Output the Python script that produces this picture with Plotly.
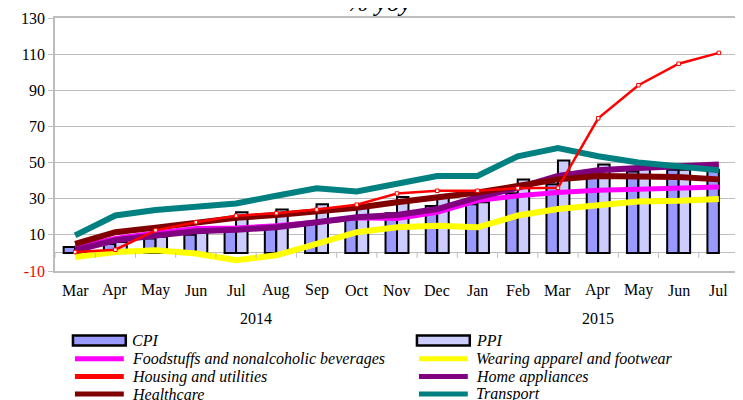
import plotly.graph_objects as go

months = ["Mar", "Apr", "May", "Jun", "Jul", "Aug", "Sep", "Oct", "Nov", "Dec",
          "Jan", "Feb", "Mar", "Apr", "May", "Jun", "Jul"]
years = ["2014", "2015"]
year_span = [(0, 9), (10, 16)]

cpi = [3.3, 5, 8, 10, 13, 15, 17, 19, 22, 26, 27, 33, 38, 42, 45, 46, 46]
ppi = [2, 6, 9, 11, 22.5, 24, 27, 25, 31, 31, 28, 40.7, 51.2, 49, 47, 46, None]
food = [3, 8, 11, 13.5, 13.8, 15, 17, 19.5, 19, 22.5, 29, 31.6, 33.4, 34.7, 35.3, 36, 36.5]
wearing = [-2.2, 0.5, 1.5, -0.3, -4, -1.3, 5, 11.5, 14.2, 15, 14.2, 20.7, 24.3, 26.7, 28.5, 28.9, 29.8]
housing = [0.5, 1.8, 12.5, 17, 20.6, 22, 24, 26.7, 32.9, 34.4, 34.4, 35.8, 36, 74.5, 92.8, 104.7, 110.7]
home = [1.5, 7, 9.7, 12, 12.8, 14.2, 17, 19.7, 21, 24.3, 30.7, 36, 42.6, 45.7, 47, 48, 49]
health = [5, 11.5, 14, 17, 19.4, 21, 23, 25, 28, 30.7, 33.4, 37, 40.7, 42.6, 42.6, 42, 40.7]
transport = [9.7, 20.7, 23.8, 26, 27.4, 31.6, 35.8, 34, 38, 42.6, 42.6, 53.5, 58, 53.5, 50, 47.5, 45.7]

yticks = [-10, 10, 30, 50, 70, 90, 110, 130]

x = list(range(len(months)))

OFF = 8  # page body margin
W, H = 743 - OFF, 400 - OFF
L, R, T, B = 55 - OFF, 2, 17 - OFF, 129
PW, PH = W - L - R, H - T - B
FONT = "Liberation Serif"
GRID = "#BDBDBD"


def px(xp):
    return (xp - OFF - L) / PW


def py(yp):
    return (H - B - (yp - OFF)) / PH


fig = go.Figure()
fig.add_trace(go.Bar(x=x, y=cpi, name="CPI", marker=dict(color="#9999FF", line=dict(color="black", width=2))))
fig.add_trace(go.Bar(x=x, y=ppi, name="PPI", marker=dict(color="#CCCCFF", line=dict(color="black", width=2))))

lines = [
    ("Foodstuffs and nonalcoholic beverages", food, "#FF00FF", 5),
    ("Wearing apparel and footwear", wearing, "#FFFF00", 6),
    ("Home appliances", home, "#800080", 6),
    ("Healthcare", health, "#800000", 6),
    ("Transport", transport, "#008080", 6),
]
for name, vals, col, w in lines:
    fig.add_trace(go.Scatter(x=x, y=vals, name=name, mode="lines",
                             line=dict(color=col, width=w)))
fig.add_trace(go.Scatter(x=x, y=housing, name="Housing and utilities", mode="lines+markers",
                         line=dict(color="#FF0000", width=2.5),
                         marker=dict(symbol="square", size=3.5, color="white",
                                     line=dict(color="#FF0000", width=1))))

shapes = []
# category axis ticks below the zero line
for i in range(len(months) + 1):
    shapes.append(dict(type="line", xref="x", yref="y", x0=i - 0.5, x1=i - 0.5,
                       ysizemode="pixel", yanchor=0, y0=0, y1=-5,
                       line=dict(color=GRID, width=1)))
# month separators in the category table
for i in range(1, len(months)):
    depth = -59 if i == 10 else -29
    shapes.append(dict(type="line", xref="x", yref="y", x0=i - 0.5, x1=i - 0.5,
                       ysizemode="pixel", yanchor=-10, y0=0, y1=depth,
                       line=dict(color=GRID, width=1.5)))
shapes.append(dict(type="line", xref="x", yref="y", x0=-0.5, x1=-0.5,
                   ysizemode="pixel", yanchor=-10, y0=0, y1=-59,
                   line=dict(color=GRID, width=1.5)))

annotations = []
for i, m in enumerate(months):
    annotations.append(dict(x=i, y=-10, xref="x", yref="y", text=m, showarrow=False,
                            yanchor="middle", yshift=-19,
                            font=dict(family=FONT, size=16, color="black")))
for yr, (a, b) in zip(years, year_span):
    annotations.append(dict(x=(a + b) / 2, y=-10, xref="x", yref="y", text=yr, showarrow=False,
                            yanchor="middle", yshift=-47,
                            font=dict(family=FONT, size=16, color="black")))
annotations.append(dict(x=px(380), y=1, xref="paper", yref="paper", text="<i>% yoy</i>",
                        showarrow=False, yanchor="bottom", yshift=-1,
                        font=dict(family=FONT, size=26, color="black")))

# legend (two columns)
legend_items = [
    ("CPI", "box", "#9999FF"),
    ("PPI", "box", "#CCCCFF"),
    ("Foodstuffs and nonalcoholic beverages", "line", "#FF00FF"),
    ("Wearing apparel and footwear", "line", "#FFFF00"),
    ("Housing and utilities", "line", "#FF0000"),
    ("Home appliances", "line", "#800080"),
    ("Healthcare", "line", "#800000"),
    ("Transport", "line", "#008080"),
]
rows_y = [340.7, 359, 377, 394.5]
cols_x = [(73, 126, 130), (418, 471, 475)]
for k, (label, kind, col) in enumerate(legend_items):
    r, c = divmod(k, 2)
    x0, x1, tx = cols_x[c]
    yc = rows_y[r]
    if kind == "box":
        shapes.append(dict(type="rect", xref="paper", yref="paper",
                           x0=px(x0), x1=px(x1), y0=py(yc + 5), y1=py(yc - 5),
                           fillcolor=col, line=dict(color="black", width=2.5)))
    else:
        shapes.append(dict(type="line", xref="paper", yref="paper",
                           x0=px(x0 + 2), x1=px(x1 - 2), y0=py(yc), y1=py(yc),
                           line=dict(color=col, width=5)))
    annotations.append(dict(x=px(tx), y=py(yc), xref="paper", yref="paper",
                            text="<i>" + label + "</i>", showarrow=False,
                            xanchor="left", yanchor="middle",
                            font=dict(family=FONT, size=16, color="black")))

fig.update_layout(
    width=W, height=H, autosize=False,
    margin=dict(l=L, r=R, t=T, b=B, pad=0),
    paper_bgcolor="white", plot_bgcolor="white",
    barmode="group", bargap=0.43, bargroupgap=0,
    showlegend=False,
    shapes=shapes, annotations=annotations,
    xaxis=dict(range=[-0.5, 16.5], showticklabels=False, showgrid=False, zeroline=False,
               showline=True, linecolor=GRID, linewidth=1.5, mirror=True, ticks=""),
    yaxis=dict(range=[-10, 130], tickvals=yticks,
               ticktext=['<span style="color:red">-10</span>'] + [str(v) for v in yticks[1:]],
               showgrid=True, gridcolor=GRID, gridwidth=1.2,
               zeroline=True, zerolinecolor=GRID, zerolinewidth=1.2,
               showline=True, linecolor=GRID, linewidth=1.5, mirror=True,
               ticks="outside", ticklen=5, tickcolor=GRID,
               tickfont=dict(family=FONT, size=16, color="black")),
)

fig.write_html("out.html")
